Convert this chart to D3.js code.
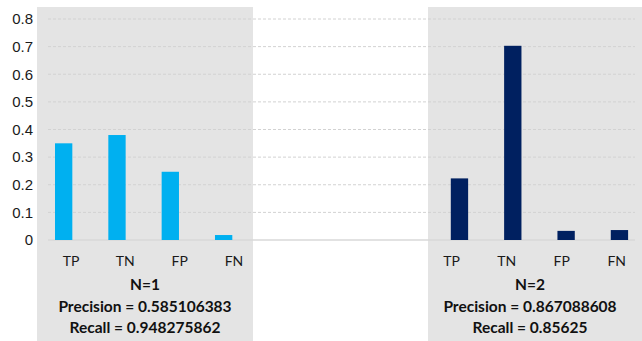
<!DOCTYPE html>
<html>
<head>
<meta charset="utf-8">
<script src="https://cdn.jsdelivr.net/npm/d3@7"></script>
<style>
    body { margin: 0; background: #fff; }
    svg { display: block; font-family: Lato, "Open Sans", sans-serif; }
    .axis text { fill: #1a1a1a; font-size: 15px; }
    .cat { font-size: 14px; fill: #1a1a1a; }
    .info { font-size: 15.5px; font-weight: bold; fill: #111; }
</style>
</head>
<body>
<div id="chart"></div>
<script>
// chart values
var categories = ['TP', 'TN', 'FP', 'FN'];
var n1Values = [0.35, 0.38, 0.247, 0.018];
var n2Values = [0.223, 0.703, 0.033, 0.036];
var yTicks = [0, 0.1, 0.2, 0.3, 0.4, 0.5, 0.6, 0.7, 0.8];
var panelTitles = ['N=1', 'N=2'];
var precisionLabels = ['Precision = 0.585106383', 'Precision = 0.867088608'];
var recallLabels = ['Recall = 0.948275862', 'Recall = 0.85625'];

var width = 642, height = 341;

var svg = d3.select('#chart')
    .append('svg')
    .attr('width', width)
    .attr('height', height);

// vertical scale shared by both panels
var y = d3.scaleLinear()
    .domain([0, 0.8])
    .range([240, 19]);

// layout of the two gray panels
var panels = [
    {values: n1Values, color: '#00b0f0', box: [37, 253], bars: [37, 250.3], labels: [71, 234], textX: 145},
    {values: n2Values, color: '#002060', box: [428, 642], bars: [432.8, 646.1], labels: [451.7, 616.7], textX: 530}
];

// gray backgrounds first, everything else sits on top
svg.selectAll('.panel')
    .data(panels)
    .enter().append('rect')
    .attr('class', 'panel')
    .attr('x', function (p) { return p.box[0]; })
    .attr('y', 7)
    .attr('width', function (p) { return p.box[1] - p.box[0]; })
    .attr('height', height - 7)
    .style('fill', '#e4e4e4');

// dashed gridlines
svg.append('g')
    .selectAll('line')
    .data(yTicks.filter(function (d) { return d > 0; }))
    .enter().append('line')
    .attr('x1', 48)
    .attr('x2', 635)
    .attr('y1', function (d) { return y(d); })
    .attr('y2', function (d) { return y(d); })
    .style('stroke', '#d2d2d2')
    .style('stroke-width', 1)
    .style('stroke-dasharray', '3,2');

// zero line
svg.append('line')
    .attr('x1', 48)
    .attr('x2', 635)
    .attr('y1', y(0))
    .attr('y2', y(0))
    .style('stroke', '#d9d9d9')
    .style('stroke-width', 1.5);

// y axis
svg.append('g')
    .attr('class', 'axis')
    .attr('transform', 'translate(33,0)')
    .call(d3.axisLeft(y)
        .tickValues(yTicks)
        .tickSize(0)
        .tickPadding(0)
        .tickFormat(function (d) { return d === 0 ? '0' : d3.format('.1f')(d); }))
    .call(function (g) { g.select('.domain').remove(); });

panels.forEach(function (p, i) {
    var x = d3.scaleBand()
        .domain(categories)
        .range(p.bars)
        .paddingInner(0.675)
        .paddingOuter(0.3375);

    var xLabel = d3.scalePoint()
        .domain(categories)
        .range(p.labels);

    var g = svg.append('g');

    g.selectAll('.bar')
        .data(p.values)
        .enter().append('rect')
        .attr('class', 'bar')
        .attr('x', function (d, j) { return x(categories[j]); })
        .attr('y', function (d) { return y(d); })
        .attr('width', x.bandwidth())
        .attr('height', function (d) { return y(0) - y(d); })
        .style('fill', p.color);

    g.selectAll('.cat')
        .data(categories)
        .enter().append('text')
        .attr('class', 'cat')
        .attr('x', function (d) { return xLabel(d); })
        .attr('y', 266)
        .attr('text-anchor', 'middle')
        .text(function (d) { return d; });

    var lines = [panelTitles[i], precisionLabels[i], recallLabels[i]];
    var baselines = [290, 312, 333];
    g.selectAll('.info')
        .data(lines)
        .enter().append('text')
        .attr('class', 'info')
        .attr('x', p.textX)
        .attr('y', function (d, j) { return baselines[j]; })
        .attr('text-anchor', 'middle')
        .text(function (d) { return d; });
});
</script>
</body>
</html>
